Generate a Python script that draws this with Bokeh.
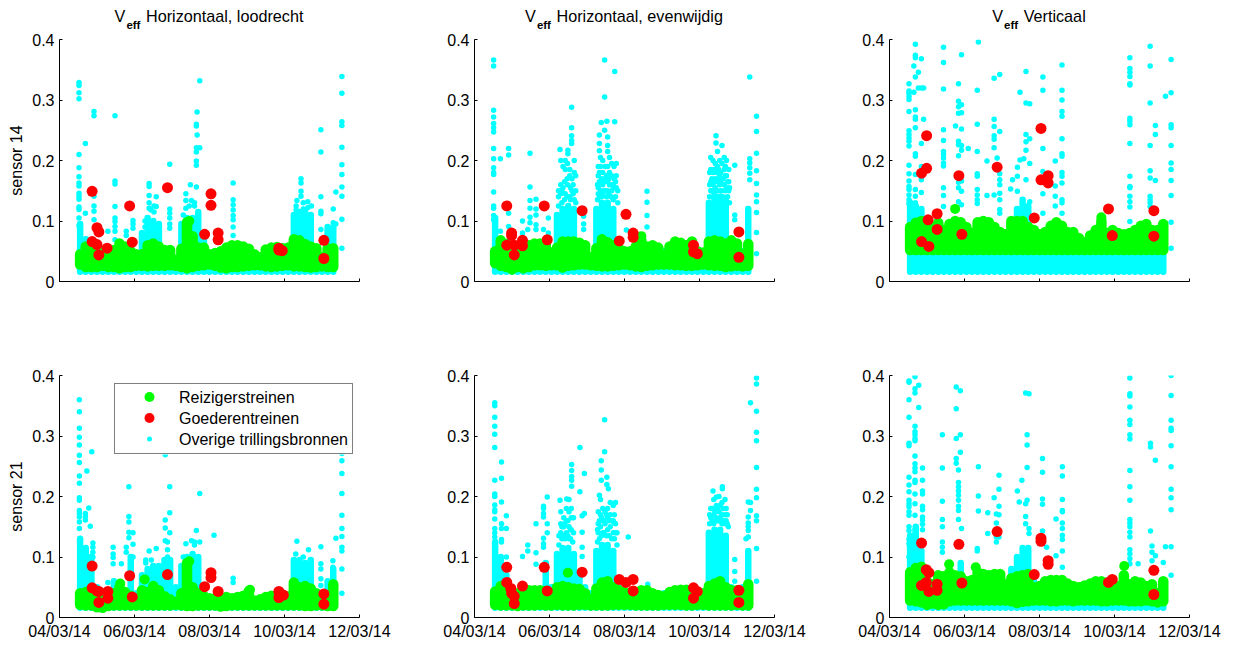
from bokeh.embed import file_html
from bokeh.layouts import column, gridplot, row
from bokeh.models import Div, FixedTicker, Legend, LegendItem, Range1d
from bokeh.plotting import figure
from bokeh.resources import INLINE

FONT = "Liberation Sans"
GREEN, RED, CYAN = "#00ff00", "#ff0000", "#00ffff"

tick_days = [0, 2, 4, 6, 8]
tick_labels = ["04/03/14", "06/03/14", "08/03/14", "10/03/14", "12/03/14"]
y_ticks = [0, 0.1, 0.2, 0.3, 0.4]
legend_labels = ["Reizigerstreinen", "Goederentreinen", "Overige trillingsbronnen"]
row_labels = ["sensor 14", "sensor 21"]

# Time bins (days after 04/03/14) for the dense part of the clouds
bin_days = [0.55, 0.70, 0.85, 1.00, 1.15, 1.30, 1.45, 1.60, 1.75, 1.90,
            2.05, 2.20, 2.35, 2.50, 2.65, 2.80, 2.95, 3.10, 3.25, 3.40,
            3.55, 3.70, 3.85, 4.00, 4.15, 4.30, 4.45, 4.60, 4.75, 4.90,
            5.05, 5.20, 5.35, 5.50, 5.65, 5.80, 5.95, 6.10, 6.25, 6.40,
            6.55, 6.70, 6.85, 7.00, 7.15, 7.30]

# ---- sensor 14, loodrecht
a_green_hi = [.045, .058, .055, .056, .047, .040, .052, .063, .058, .050,
              .045, .045, .060, .063, .058, .052, .052, .036, .054, .098,
              .075, .056, .056, .045, .047, .050, .056, .060, .060, .058,
              .054, .045, .040, .053, .056, .057, .055, .056, .070, .068,
              .062, .058, .055, .040, .055, .055]
a_green_lo = [.028, .024, .024, .024, .026, .024, .024, .022, .024, .024,
              .026, .026, .025, .026, .026, .026, .027, .026, .024, .022,
              .024, .026, .027, .028, .026, .023, .022, .024, .024, .025,
              .026, .027, .027, .025, .024, .025, .026, .027, .025, .025,
              .024, .023, .024, .025, .024, .024]
a_cyan_hi = [.095, .07, .05, .05, .05, .05, .05, .05, .05, .05,
             .04, .08, .105, .10, .095, .05, .05, .03, .095, .105,
             .105, .115, .075, .04, .05, .05, .05, .06, .05, .05,
             .05, .04, .04, .05, .05, .05, .05, .05, .11, .115,
             .115, .11, .05, .04, .09, .09]
a_green_x = [3.46]
a_green_y = [.100]
a_red_x = [.87, 1.0, 1.05, .87, 1.0, 1.05, 1.27, 1.87, 1.94, 2.88, 3.87, 4.04, 4.04, 4.23, 4.23, 5.85, 5.85, 5.94, 7.05, 7.05]
a_red_y = [.149, .089, .082, .066, .061, .044, .055, .125, .065, .155, .078, .145, .126, .08, .069, .052, .055, .051, .068, .038]
a_cyan = [(.52, [.329, .324, .312, .302, .21, .188, .173, .163, .158, .146, .141, .136, .123, .119, .105, .092]),
          (.69, [.228, .113]), (.92, [.281, .274, .141, .125, .116, .102]), (1.29, [.083]),
          (1.48, [.274, .166, .161, .124, .105, .099, .091, .083, .069]), (1.78, [.083, .076]),
          (1.96, [.101, .095, .088]), (2.39, [.162, .157, .142, .13, .121]), (2.58, [.14, .124]),
          (2.94, [.194, .12, .113, .105, .095, .088]), (3.37, [.145, .134, .121]), (3.49, [.16]),
          (3.52, [.134]), (3.65, [.26, .257, .221, .214, .199, .192, .156]), (3.67, [.28, .242]),
          (3.74, [.332, .221]), (4.63, [.163, .135, .127, .118, .109, .102, .09, .076]),
          (6.33, [.134]), (6.44, [.17, .163, .149, .141]),
          (6.97, [.251, .214, .14, .116, .112, .086]), (7.3, [.12, .097]), (7.37, [.148, .095]),
          (7.53, [.339, .311, .264, .258, .222, .193, .177, .156, .141, .103, .055]),
          (2.28, [.09, .1]), (2.44, [.118]), (2.52, [.115, .125]), (3.3, [.11]), (3.46, [.125]),
          (3.6, [.125, .13]), (6.31, [.118, .125]), (6.5, [.13, .12]), (6.62, [.132, .122]), (6.72, [.125])]

# ---- sensor 14, evenwijdig
b_green_hi = [.05, .068, .062, .058, .055, .06, .06, .063, .063, .062,
              .048, .056, .066, .066, .066, .064, .06, .04, .055, .07,
              .065, .06, .055, .05, .05, .058, .068, .058, .06, .056,
              .045, .058, .066, .064, .06, .066, .05, .048, .066, .068,
              .066, .063, .068, .063, .045, .062]
b_green_lo = [.030, .026, .024, .020, .024, .022, .024, .027, .027, .026,
              .027, .027, .023, .026, .027, .028, .028, .027, .026, .025,
              .025, .026, .027, .028, .027, .025, .024, .026, .027, .028,
              .028, .028, .027, .027, .026, .026, .027, .028, .027, .026,
              .026, .024, .025, .026, .025, .026]
b_cyan_hi = [.105, .06, .05, .05, .05, .05, .05, .05, .05, .05,
             .05, .11, .12, .125, .12, .05, .05, .04, .12, .13,
             .13, .12, .06, .05, .05, .05, .05, .05, .05, .05,
             .05, .05, .05, .05, .05, .05, .05, .05, .13, .14,
             .14, .135, .05, .05, .05, .12]
b_green_x = [4.45]
b_green_y = [.075]
b_red_x = [.86, .99, .99, .86, 1.06, 1.06, 1.28, 1.28, 1.86, 1.94, 2.87, 3.86, 4.04, 4.23, 4.23, 5.84, 5.84, 5.94, 7.05, 7.05]
b_red_y = [.125, .08, .076, .06, .06, .044, .068, .059, .125, .069, .117, .067, .111, .08, .073, .06, .049, .046, .082, .04]
b_cyan = [(.51, [.366, .356, .283, .272, .261, .254, .247, .22, .203, .188, .18, .177, .148, .125, .121, .109, .102]),
          (.69, [.203, .083]), (.91, [.22, .209, .113, .091]),
          (1.28, [.1, .08]), (1.42, [.086]), (1.48, [.212, .156, .134, .121, .106, .097]),
          (1.64, [.136, .12, .11, .094, .086]), (1.84, [.086]), (1.97, [.105, .08]), (2.28, [.218]),
          (2.49, [.217, .211]), (2.59, [.288, .254, .241, .233, .228]),
          (2.91, [.113, .108, .095, .086]), (3.47, [.366, .305, .25]), (3.74, [.347, .264]),
          (3.38, [.263]), (3.53, [.265]), (3.33, [.242, .228, .216]), (3.55, [.239, .225]),
          (4.6, [.149, .131, .109, .09]), (4.05, [.085]), (6.44, [.241, .229]),
          (6.94, [.192, .11, .102]), (7.34, [.338, .203, .196, .188, .179, .168]),
          (7.52, [.273, .248, .212, .183, .162, .143, .132, .114, .081, .046]),
          (2.3, [.2, .16, .145]), (2.36, [.19, .155]), (2.42, [.2, .185, .145]), (2.48, [.195, .16]),
          (2.54, [.185, .175, .14]), (2.6, [.17, .15]), (2.66, [.2, .18, .135]), (2.7, [.175]),
          (3.3, [.19, .175, .155, .145]), (3.36, [.205, .19, .165, .15]), (3.42, [.2, .18, .16, .145]),
          (3.48, [.19, .17, .15]), (3.55, [.215, .19, .165, .15]), (3.6, [.205, .18, .16]),
          (3.66, [.195, .175, .15]), (3.72, [.19, .17, .155]), (3.78, [.195, .175, .155]),
          (6.3, [.205, .185, .165, .15]), (6.36, [.2, .18, .16]), (6.42, [.195, .17, .155]),
          (6.48, [.215, .19, .165, .15]), (6.54, [.2, .175, .16]), (6.6, [.225, .195, .17, .15]),
          (6.66, [.205, .185, .16]), (6.72, [.2, .175, .155]), (6.78, [.185, .165, .15]),
          (2.24, [.125, .14, .15]), (2.33, [.13, .15]), (2.4, [.135, .165]), (2.47, [.14, .17]),
          (2.56, [.135, .155]), (2.63, [.145, .16]), (2.7, [.13, .15]),
          (3.28, [.135, .16]), (3.33, [.14, .165, .18]), (3.39, [.14, .17]), (3.45, [.15, .165]),
          (3.52, [.14, .175]), (3.58, [.145, .17]), (3.64, [.14, .16]), (3.7, [.135, .16]),
          (3.76, [.14, .165]), (3.82, [.13, .15]),
          (6.27, [.14, .16, .18]), (6.33, [.15, .17]), (6.39, [.145, .165, .185]), (6.45, [.15, .18]),
          (6.51, [.14, .17, .185]), (6.57, [.15, .165, .18]), (6.63, [.14, .17]), (6.69, [.15, .175, .19]),
          (6.75, [.14, .165]), (6.8, [.13, .155])]

# ---- sensor 14, verticaal
c_green_hi = [.09, .097, .1, .095, .09, .097, .085, .095, .1, .098,
              .09, .08, .098, .1, .098, .09, .082, .078, .1, .1,
              .1, .09, .085, .078, .082, .092, .098, .092, .082, .082,
              .072, .065, .076, .085, .1, .08, .085, .08, .078, .08,
              .085, .092, .095, .085, .085, .095]
c_green_lo = [.052, .052, .052, .052, .052, .052, .052, .052, .052, .052,
              .052, .052, .052, .052, .052, .052, .052, .052, .052, .052,
              .052, .052, .052, .052, .052, .052, .052, .052, .052, .052,
              .052, .052, .052, .052, .052, .052, .052, .052, .052, .052,
              .052, .052, .052, .052, .052, .052]
c_cyan_hi = [.13, .125, .12, .05, .05, .05, .05, .05, .05, .05,
             .05, .05, .05, .05, .05, .05, .05, .05, .10, .12,
             .135, .125, .06, .05, .05, .05, .05, .05, .05, .05,
             .05, .05, .05, .05, .05, .05, .05, .05, .05, .05,
             .05, .05, .05, .05, .05, .05]
c_green_x = [1.75, 5.65]
c_green_y = [.12, .106]
c_red_x = [.855, 1.05, .99, .855, .99, 1.03, 1.27, 1.27, 1.85, 1.93, 2.87, 3.86, 4.04, 4.04, 4.23, 4.23, 5.84, 5.94, 7.05, 7.05]
c_red_y = [.066, .058, .241, .179, .187, .102, .112, .086, .175, .078, .189, .105, .253, .168, .175, .163, .12, .076, .117, .075]
c_cyan = [(.52, [.327, .315, .311, .306, .301, .281, .249, .243, .237, .232, .224, .192, .178, .166, .157, .152, .143, .135, .129]),
          (.65, [.356, .313]), (.69, [.392, .374, .37, .338, .284, .272, .268, .254, .211, .207, .177, .152, .141, .13]),
          (.77, [.346, .32]), (.85, [.368, .32, .228, .19, .168, .147]), (.91, [.32, .268]),
          (1.44, [.387, .362, .318, .251, .233, .215, .21, .204, .196, .191, .155, .142, .124]),
          (1.76, [.257]), (1.84, [.327, .298, .289, .278, .232, .226, .208, .164, .155, .132]),
          (1.92, [.375, .292, .279, .252, .225, .217, .166, .149, .127]), (2.1, [.22]),
          (2.34, [.316, .26, .215, .178, .174, .152, .143, .135, .129]), (2.37, [.396]),
          (2.6, [.199, .142]), (2.79, [.336, .268, .256, .241, .235, .221, .143]), (2.87, [.204]),
          (2.94, [.342, .248, .178, .168, .16, .146, .135, .119, .113]), (3.23, [.153]), (3.28, [.168]),
          (3.41, [.189, .174, .149]), (3.48, [.313, .201]), (3.58, [.203]),
          (3.64, [.347, .295, .243, .231, .217, .168]), (3.74, [.294, .236, .195, .132]),
          (4.09, [.338, .316, .22, .182, .145, .113]), (4.42, [.199, .158, .141, .125]),
          (4.6, [.358, .316, .3, .281, .273, .236, .211, .207, .18, .174, .163, .135, .13, .113]),
          (6.41, [.37, .352, .346, .339, .327, .325, .27, .265, .259, .228, .174, .157, .155, .141, .132, .123, .099]),
          (6.95, [.389, .356, .295, .225, .183, .171, .141, .135, .13, .124]),
          (7.09, [.258, .243, .167]), (7.36, [.306]),
          (7.51, [.367, .312, .259, .254, .225, .196, .185, .167, .142, .098, .055])]

# ---- sensor 21, loodrecht
d_green_hi = [.04, .042, .036, .03, .03, .032, .04, .05, .042, .036,
              .031, .045, .042, .052, .045, .035, .03, .026, .04, .09,
              .05, .04, .035, .032, .032, .032, .034, .032, .034, .036,
              .044, .028, .03, .034, .036, .034, .034, .035, .058, .05,
              .052, .048, .04, .032, .03, .055]
d_green_lo = [.021, .020, .020, .017, .016, .019, .020, .020, .020, .020,
              .020, .020, .020, .020, .020, .020, .020, .021, .020, .019,
              .019, .020, .020, .020, .020, .018, .019, .020, .020, .020,
              .020, .020, .020, .020, .020, .020, .020, .020, .020, .020,
              .019, .019, .020, .020, .019, .019]
d_cyan_hi = [.13, .115, .10, .05, .03, .03, .06, .04, .04, .10,
             .04, .07, .08, .085, .085, .095, .095, .05, .085, .10,
             .105, .10, .05, .03, .03, .03, .03, .03, .03, .03,
             .03, .03, .03, .03, .03, .03, .03, .03, .095, .095,
             .09, .095, .04, .03, .06, .08]
d_green_x = [1.62, 2.27, 3.46, 5.08]
d_green_y = [.056, .063, .093, .046]
d_red_x = [.87, .87, 1.0, 1.05, 1.05, 1.29, 1.29, 1.87, 1.94, 2.88, 3.87, 4.04, 4.04, 4.23, 5.85, 5.85, 5.97, 7.05, 7.05]
d_red_y = [.085, .049, .044, .025, .043, .043, .032, .069, .034, .071, .051, .074, .066, .043, .043, .033, .037, .039, .022]
d_cyan = [(.53, [.36, .34, .313, .298, .285, .268, .256, .234, .222, .198, .194, .177, .172, .166, .158, .147]),
          (.69, [.172, .167, .161]), (.73, [.242]), (.78, [.181]), (.82, [.151]), (.86, [.274]),
          (.89, [.123, .116, .108, .1]), (1.29, [.058]), (1.43, [.116, .105, .099, .089]), (1.65, [.089]),
          (1.85, [.216, .167, .158, .141, .132]), (1.78, [.116, .108]), (1.96, [.14, .121, .1]),
          (2.39, [.11]), (2.58, [.114]), (2.82, [.269, .161, .148, .127]), (2.88, [.125, .112, .1]),
          (2.94, [.216, .173, .14]), (3.37, [.122]), (3.52, [.127]), (3.65, [.144]),
          (3.74, [.205, .125]), (4.12, [.136]), (4.63, [.065, .058]), (6.33, [.126]), (6.64, [.112]),
          (6.97, [.117, .089, .08, .064, .053]), (7.29, [.094, .083]), (7.37, [.131]),
          (7.53, [.271, .259, .238, .205, .169, .147, .134, .116, .11, .08, .04]),
          (2.3, [.09, .095]), (2.45, [.095]), (3.3, [.1]), (3.6, [.12, .125]), (6.3, [.105]), (6.5, [.1])]

# ---- sensor 21, evenwijdig
e_green_hi = [.043, .052, .042, .04, .04, .042, .045, .045, .045, .044,
              .04, .05, .052, .05, .048, .047, .04, .03, .048, .058,
              .06, .05, .045, .042, .04, .04, .045, .045, .04, .037,
              .035, .042, .045, .046, .046, .044, .042, .04, .052, .056,
              .06, .05, .045, .045, .04, .055]
e_green_lo = [.021, .020, .020, .020, .019, .020, .020, .020, .021, .020,
              .020, .021, .020, .020, .020, .021, .021, .020, .020, .020,
              .020, .021, .021, .021, .021, .020, .020, .020, .020, .020,
              .021, .021, .021, .021, .020, .020, .021, .021, .020, .020,
              .020, .020, .020, .021, .020, .020]
e_cyan_hi = [.125, .10, .07, .05, .04, .04, .04, .04, .04, .09,
             .05, .105, .115, .115, .105, .07, .05, .04, .11, .12,
             .12, .11, .05, .04, .04, .04, .04, .04, .04, .04,
             .04, .04, .04, .04, .04, .04, .04, .04, .14, .145,
             .145, .135, .05, .04, .05, .11]
e_green_x = [2.49]
e_green_y = [.074]
e_red_x = [.86, .86, .97, .99, 1.06, 1.06, 1.28, 1.86, 1.94, 2.87, 3.86, 4.04, 4.23, 4.23, 5.84, 5.94, 5.84, 7.05, 7.05]
e_red_y = [.083, .058, .048, .04, .035, .023, .052, .083, .044, .075, .063, .058, .063, .044, .049, .043, .032, .045, .025]
e_cyan = [(.54, [.355, .35, .331, .316, .303, .281, .227, .204, .2, .186, .178, .175, .163, .147, .14, .133]),
          (.72, [.257, .23, .191, .155, .147, .129, .125]), (.85, [.168, .147, .1]), (1.28, [.101]),
          (1.42, [.12, .11]), (1.64, [.155, .107, .088]), (1.84, [.184, .18, .172, .166, .131, .122, .116]),
          (1.94, [.199, .155, .14]), (2.28, [.194]), (2.46, [.196]), (2.52, [.195]),
          (2.59, [.253, .243, .233, .227, .217]), (2.81, [.281, .208]), (2.87, [.168, .141, .116, .101]),
          (2.93, [.238, .172]), (3.47, [.327, .274]), (3.38, [.259, .244, .227]), (3.33, [.202]),
          (3.53, [.232, .22]), (3.57, [.213]), (3.73, [.156]), (4.1, [.133]), (4.62, [.055]),
          (6.36, [.209]), (6.45, [.199]), (6.61, [.216, .213]), (6.94, [.096, .076, .06]),
          (7.24, [.13]), (7.3, [.191, .166, .156, .15, .144, .133]), (7.36, [.355, .19, .177]),
          (7.52, [.396, .386, .341, .306, .292, .248, .212, .198, .168, .16, .114, .06]),
          (2.3, [.175, .155, .14]), (2.38, [.165, .15, .135]), (2.45, [.18, .16, .14]), (2.52, [.175, .15, .13]),
          (2.58, [.18, .165, .145]), (2.64, [.165, .14]),
          (3.3, [.175, .155, .14]), (3.36, [.195, .17, .15]), (3.42, [.18, .16, .14]), (3.48, [.175, .155]),
          (3.55, [.18, .165, .145]), (3.62, [.19, .17, .15]), (3.7, [.185, .16, .14]), (3.76, [.19, .155, .14]),
          (6.3, [.18, .165]), (6.38, [.195, .17, .155]), (6.45, [.185, .165]), (6.52, [.2, .175, .16]),
          (6.6, [.19, .17, .155]), (6.68, [.195, .17, .155]), (6.74, [.17, .155]),
          (2.25, [.12, .135]), (2.33, [.13, .15]), (2.41, [.13, .155]), (2.49, [.135, .16]),
          (2.56, [.13, .145]), (2.62, [.125]),
          (3.28, [.125, .145]), (3.33, [.13, .16]), (3.39, [.135, .165]), (3.45, [.14, .16]),
          (3.52, [.135, .17]), (3.59, [.135, .16]), (3.66, [.13, .16]), (3.73, [.13, .17]), (3.8, [.12, .14]),
          (6.27, [.155, .17]), (6.34, [.16, .18]), (6.41, [.16, .175]), (6.48, [.16, .18]),
          (6.55, [.165, .185]), (6.63, [.16, .18]), (6.71, [.16, .18]), (6.77, [.15])]

# ---- sensor 21, verticaal
f_green_hi = [.075, .082, .084, .06, .055, .07, .068, .075, .07, .068,
              .06, .062, .075, .072, .07, .072, .072, .055, .065, .068,
              .07, .072, .05, .052, .06, .062, .062, .062, .056, .052,
              .05, .053, .056, .06, .06, .058, .056, .052, .07, .055,
              .06, .058, .052, .055, .04, .06]
f_green_lo = [.028, .027, .025, .021, .023, .021, .022, .027, .028, .028,
              .028, .028, .028, .028, .028, .028, .028, .028, .027, .024,
              .026, .027, .028, .028, .028, .027, .027, .028, .028, .027,
              .028, .028, .028, .028, .027, .027, .028, .028, .028, .027,
              .027, .027, .028, .027, .025, .027]
f_cyan_hi = [.135, .15, .11, .05, .04, .05, .04, .04, .04, .09,
             .04, .04, .04, .04, .04, .04, .04, .04, .08, .10,
             .115, .115, .06, .04, .04, .04, .04, .04, .04, .04,
             .04, .04, .04, .04, .04, .04, .04, .04, .04, .04,
             .04, .04, .04, .04, .04, .04]
f_green_x = [1.59, 2.3, 6.26]
f_green_y = [.088, .083, .085]
f_red_x = [.855, 1.85, .98, 1.05, .855, .98, 1.05, 1.27, 1.27, 1.93, 2.87, 3.86, 4.04, 4.04, 4.23, 4.23, 5.84, 5.94, 7.05, 7.05]
f_red_y = [.123, .121, .079, .074, .053, .058, .043, .055, .045, .057, .142, .071, .131, .126, .094, .088, .058, .063, .078, .038]
f_cyan = [(.52, [.391, .389, .36, .331, .288, .284, .232, .219, .208, .194, .188, .183, .175, .169, .15, .144, .129, .122, .1]),
          (.68, [.398, .378, .371, .316, .307, .302, .296, .292, .267, .254, .247, .241, .227, .223, .204, .188, .169, .145, .139]),
          (.78, [.384, .347]), (.88, [.247, .227, .209, .204, .184, .178, .166, .161, .154, .145]),
          (1.41, [.302, .247, .192, .162, .15, .125, .116, .108]), (1.78, [.381, .345, .296, .263, .255]),
          (1.84, [.244, .223, .216, .209, .202, .194, .184, .177, .162]), (1.89, [.375, .302, .273]),
          (1.92, [.147]), (2.34, [.114, .11]), (2.37, [.249, .201, .176]), (2.62, [.173, .139]), (2.79, [.198]),
          (2.85, [.171, .156, .141, .133, .125]), (2.92, [.235, .212, .184, .17, .144, .133]), (3.41, [.209]),
          (3.53, [.227]), (3.46, [.191]), (3.63, [.371, .188, .167, .155]), (3.67, [.302, .285, .248, .194]),
          (3.72, [.37, .147, .139]), (4.08, [.263, .24, .196, .187, .143]), (4.19, [.116]),
          (4.44, [.163, .102]), (4.61, [.249, .234, .195, .177, .175, .156, .147, .136, .129, .11, .083]),
          (6.41, [.396, .37, .366, .348, .326, .319, .302, .295, .243, .216, .194, .162, .156, .15, .141, .133, .112, .105, .097, .089]),
          (6.63, [.089]), (6.96, [.288, .282, .143]), (7.0, [.118, .108, .094]), (7.09, [.26, .102]),
          (7.3, [.091]), (7.36, [.117]), (7.51, [.4, .367, .326, .313, .309, .284, .249, .212, .198, .178, .117, .07])]

titles = ["Horizontaal, loodrecht", "Horizontaal, evenwijdig", "Verticaal"]
cyan_floor = .016

panels = [
    (a_green_hi, a_green_lo, a_cyan_hi, a_green_x, a_green_y, a_red_x, a_red_y, a_cyan),
    (b_green_hi, b_green_lo, b_cyan_hi, b_green_x, b_green_y, b_red_x, b_red_y, b_cyan),
    (c_green_hi, c_green_lo, c_cyan_hi, c_green_x, c_green_y, c_red_x, c_red_y, c_cyan),
    (d_green_hi, d_green_lo, d_cyan_hi, d_green_x, d_green_y, d_red_x, d_red_y, d_cyan),
    (e_green_hi, e_green_lo, e_cyan_hi, e_green_x, e_green_y, e_red_x, e_red_y, e_cyan),
    (f_green_hi, f_green_lo, f_cyan_hi, f_green_x, f_green_y, f_red_x, f_red_y, f_cyan),
]

FRAME_W, FRAME_H = 300, 242
B_LEFT = 59
B_TOP = [10, 39]       # the top row's headroom is taken by the title strip
TITLE_H = 29
COL_W = [415, 415, 394]
ROW_H = [307, 306]
PX_X, PX_Y = 8 / FRAME_W, 0.4 / FRAME_H      # data units per pixel
LEG_LEFT, LEG_BOTTOM, LEG_W, LEG_H = 55, 163, 238, 70


def make_panel(i):
    gh, gl, ch, gx, gy, rx, ry, cy = panels[i]
    r, c = divmod(i, 3)
    p = figure(width=COL_W[c], height=ROW_H[r], output_backend="svg", toolbar_location=None,
               x_range=Range1d(0, 8), y_range=Range1d(0, 0.4),
               min_border_left=B_LEFT, min_border_right=COL_W[c] - B_LEFT - FRAME_W,
               min_border_top=B_TOP[r], min_border_bottom=ROW_H[r] - B_TOP[r] - FRAME_H,
               outline_line_color=None, background_fill_color="white")
    p.grid.visible = False

    cx = [d for d, vals in cy for _ in vals]
    cv = [v for _, vals in cy for v in vals]
    p.segment(bin_days, [cyan_floor] * len(bin_days), bin_days, ch,
              line_color=CYAN, line_width=6.5, line_cap="round")
    p.scatter(cx, cv, size=5.5, color=CYAN, line_width=0)
    p.segment(bin_days, gl, bin_days, gh, line_color=GREEN, line_width=10.5, line_cap="round")
    p.scatter(gx, gy, size=10, color=GREEN, line_width=0)
    p.scatter(rx, ry, size=11, color=RED, line_width=0)

    p.xaxis.ticker = FixedTicker(ticks=tick_days)
    p.xaxis.major_label_overrides = dict(zip(tick_days, tick_labels if r == 1 else [""] * 5))
    p.yaxis.ticker = FixedTicker(ticks=y_ticks)
    p.yaxis.major_label_overrides = {0: "0", 0.1: "0.1", 0.2: "0.2", 0.3: "0.3", 0.4: "0.4"}
    for ax in (p.xaxis[0], p.yaxis[0]):
        ax.axis_line_color = "black"
        ax.major_tick_line_color = "black"
        ax.major_tick_in = 3
        ax.major_tick_out = 0
        ax.minor_tick_line_color = None
        ax.major_label_text_font = FONT
        ax.major_label_text_font_size = "16px"
        ax.major_label_text_color = "black"
        ax.major_label_standoff = 5
    p.xaxis.major_label_standoff = 5

    if c == 0:
        p.yaxis.axis_label = row_labels[r]
        p.yaxis.axis_label_text_font = FONT
        p.yaxis.axis_label_text_font_size = "16px"
        p.yaxis.axis_label_text_font_style = "normal"
        p.yaxis.axis_label_text_color = "black"
        p.yaxis.axis_label_standoff = 4

    if i == 3:
        # Bokeh draws all legend keys one size, and its legend lies above every glyph.
        # So: a white glyph masks the cloud, the three swatches go on that, and a
        # see-through legend with empty keys adds the frame and labels on top.
        p.quad(left=[LEG_LEFT * PX_X], right=[(LEG_LEFT + LEG_W) * PX_X],
               bottom=[LEG_BOTTOM * PX_Y], top=[(LEG_BOTTOM + LEG_H) * PX_Y],
               fill_color="white", line_color=None)
        swatch_x = 90 * PX_X
        for offset, colour, size in ((220.5, GREEN, 10), (199.5, RED, 10), (178.5, CYAN, 5)):
            p.scatter([swatch_x], [offset * PX_Y], size=size, color=colour, line_width=0)
        keys = [p.scatter([], [], size=1, fill_alpha=0, line_alpha=0) for _ in legend_labels]
        leg = Legend(items=[LegendItem(label=t, renderers=[k]) for t, k in zip(legend_labels, keys)],
                     location=(LEG_LEFT, LEG_BOTTOM), margin=0, padding=4, spacing=2, glyph_width=60,
                     glyph_height=19, label_height=19, label_standoff=0,
                     label_text_font=FONT, label_text_font_size="16px", label_text_color="black",
                     border_line_color="black", border_line_width=1, background_fill_alpha=0)
        p.add_layout(leg, "center")
    return p


def make_title(c):
    html = ('<span style="display:block;line-height:18px;white-space:nowrap">V'
            '<span style="font-size:11.5px;font-weight:bold;position:relative;top:7px;'
            'line-height:0;margin:0 1px">eff</span> ' + titles[c] + '</span>')
    return Div(text=html, width=FRAME_W, height=TITLE_H - 5,
               margin=(5, COL_W[c] - B_LEFT - FRAME_W, 0, B_LEFT),
               styles={"font-family": FONT, "font-size": "16.2px", "color": "black",
                       "text-align": "center"})


figs = [make_panel(i) for i in range(6)]
head = row([make_title(c) for c in range(3)], spacing=0)
grid = gridplot([figs[:3], figs[3:]], toolbar_location=None)
open("out.html", "w").write(file_html(column(head, grid, spacing=0), INLINE))
